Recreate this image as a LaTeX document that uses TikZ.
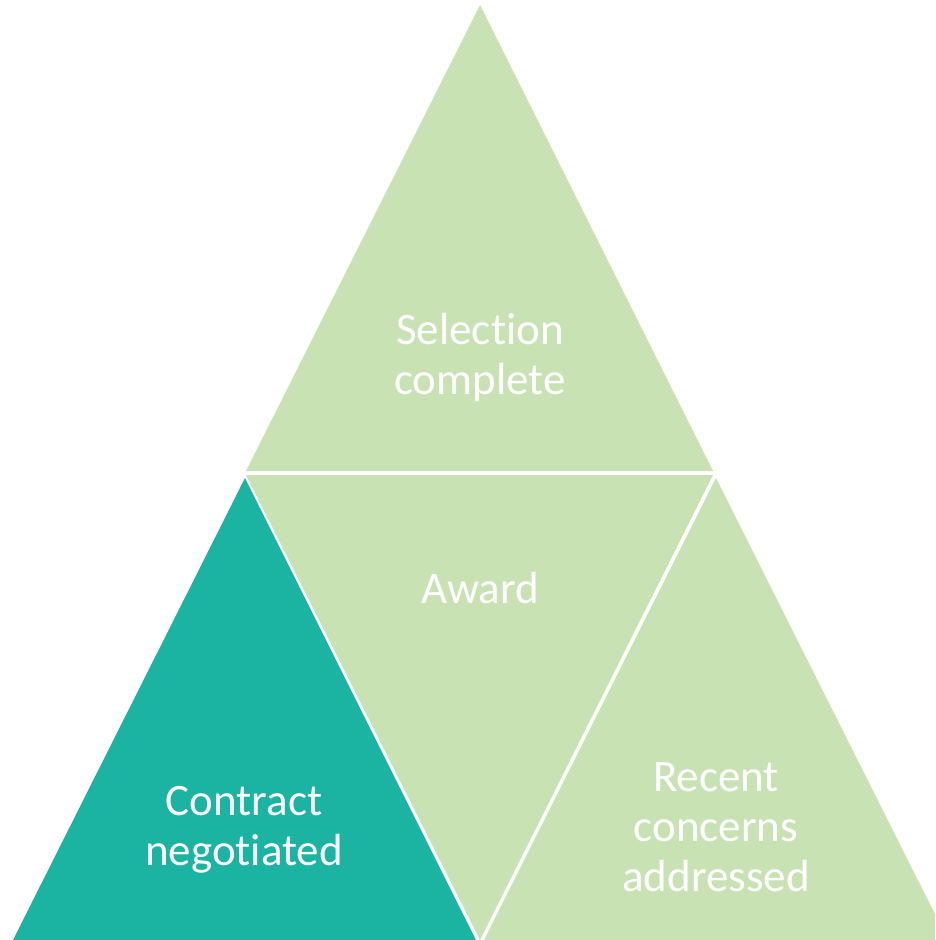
\documentclass[tikz,border=0pt]{standalone}
\usepackage{fontspec}
\setmainfont{Carlito}[Ligatures={NoCommon}]
\definecolor{lightgreen}{HTML}{C9E2B4}
\definecolor{teal}{HTML}{1BB3A2}
\begin{document}
\begin{tikzpicture}[x=1pt,y=-1pt,
  lbl/.style={text=white,align=center,anchor=base,inner sep=0pt,font=\fontsize{45}{50}\selectfont}]
\useasboundingbox (0,0) rectangle (935,940);
\clip (0,0) rectangle (935,940);
\fill[lightgreen] (480,5) -- (713,471) -- (246,471) -- cycle;
\fill[lightgreen] (246,475) -- (713,475) -- (480,940) -- cycle;
\fill[teal] (245,478) -- (476,940) -- (13,940) -- cycle;
\fill[lightgreen] (716,478) -- (948,940) -- (484,940) -- cycle;
\node[lbl] (sel) at (480,394) {Selection\\complete};
\node[lbl] (award) at (480,603) {Award};
\node[lbl] (con) at (244,865) {Contract\\negotiated};
\node[lbl] (rec) at (716,891) {Recent\\concerns\\addressed};
\end{tikzpicture}
\end{document}
